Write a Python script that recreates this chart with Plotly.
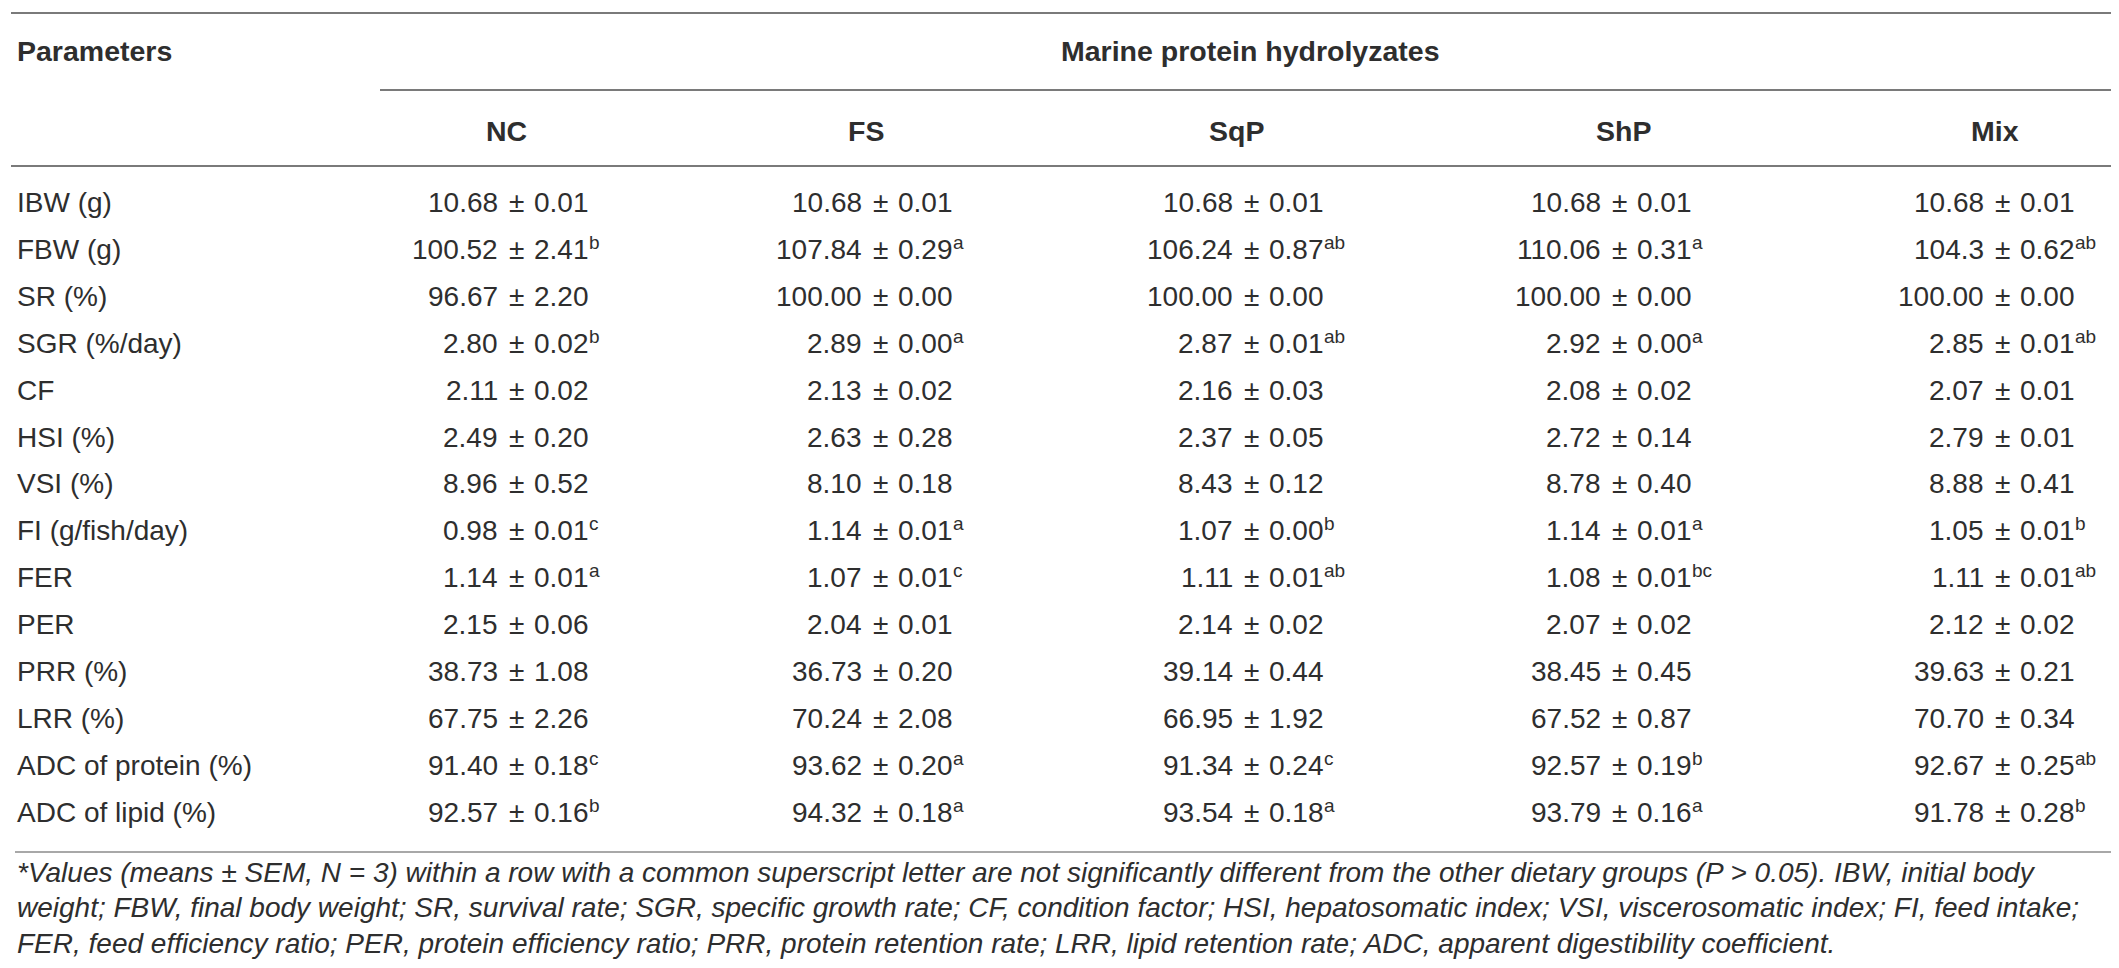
import plotly.graph_objects as go

# ---- table data ----
params = ["IBW (g)", "FBW (g)", "SR (%)", "SGR (%/day)", "CF", "HSI (%)", "VSI (%)",
          "FI (g/fish/day)", "FER", "PER", "PRR (%)", "LRR (%)",
          "ADC of protein (%)", "ADC of lipid (%)"]
groups = ["NC", "FS", "SqP", "ShP", "Mix"]

nc_mean = ["10.68", "100.52", "96.67", "2.80", "2.11", "2.49", "8.96", "0.98", "1.14", "2.15", "38.73", "67.75", "91.40", "92.57"]
nc_sem = ["0.01", "2.41", "2.20", "0.02", "0.02", "0.20", "0.52", "0.01", "0.01", "0.06", "1.08", "2.26", "0.18", "0.16"]
nc_sig = ["", "b", "", "b", "", "", "", "c", "a", "", "", "", "c", "b"]

fs_mean = ["10.68", "107.84", "100.00", "2.89", "2.13", "2.63", "8.10", "1.14", "1.07", "2.04", "36.73", "70.24", "93.62", "94.32"]
fs_sem = ["0.01", "0.29", "0.00", "0.00", "0.02", "0.28", "0.18", "0.01", "0.01", "0.01", "0.20", "2.08", "0.20", "0.18"]
fs_sig = ["", "a", "", "a", "", "", "", "a", "c", "", "", "", "a", "a"]

sqp_mean = ["10.68", "106.24", "100.00", "2.87", "2.16", "2.37", "8.43", "1.07", "1.11", "2.14", "39.14", "66.95", "91.34", "93.54"]
sqp_sem = ["0.01", "0.87", "0.00", "0.01", "0.03", "0.05", "0.12", "0.00", "0.01", "0.02", "0.44", "1.92", "0.24", "0.18"]
sqp_sig = ["", "ab", "", "ab", "", "", "", "b", "ab", "", "", "", "c", "a"]

shp_mean = ["10.68", "110.06", "100.00", "2.92", "2.08", "2.72", "8.78", "1.14", "1.08", "2.07", "38.45", "67.52", "92.57", "93.79"]
shp_sem = ["0.01", "0.31", "0.00", "0.00", "0.02", "0.14", "0.40", "0.01", "0.01", "0.02", "0.45", "0.87", "0.19", "0.16"]
shp_sig = ["", "a", "", "a", "", "", "", "a", "bc", "", "", "", "b", "a"]

mix_mean = ["10.68", "104.3", "100.00", "2.85", "2.07", "2.79", "8.88", "1.05", "1.11", "2.12", "39.63", "70.70", "92.67", "91.78"]
mix_sem = ["0.01", "0.62", "0.00", "0.01", "0.01", "0.01", "0.41", "0.01", "0.01", "0.02", "0.21", "0.34", "0.25", "0.28"]
mix_sig = ["", "ab", "", "ab", "", "", "", "b", "ab", "", "", "", "ab", "b"]

footnote = [
    "*Values (means ± SEM, N = 3) within a row with a common superscript letter are not significantly different from the other dietary groups (P > 0.05). IBW, initial body",
    "weight; FBW, final body weight; SR, survival rate; SGR, specific growth rate; CF, condition factor; HSI, hepatosomatic index; VSI, viscerosomatic index; FI, feed intake;",
    "FER, feed efficiency ratio; PER, protein efficiency ratio; PRR, protein retention rate; LRR, lipid retention rate; ADC, apparent digestibility coefficient.",
]

columns = [(nc_mean, nc_sem, nc_sig), (fs_mean, fs_sem, fs_sig), (sqp_mean, sqp_sem, sqp_sig),
           (shp_mean, shp_sem, shp_sig), (mix_mean, mix_sem, mix_sig)]

# ---- layout (pixel grid) ----
W, H = 2119, 968
pm_x = [508, 872, 1243, 1611, 1994]     # x of the ± sign in each column
head_x = [498, 858, 1228, 1615, 1987]
row0, row_step = 196, 46.9
base_off = 16   # bottom of text box below row centre
sup_dx = 71     # superscript starts right after the "d.dd" SEM text
FONT = "Liberation Sans, Arial, sans-serif"
TXT = "#2e2e2e"
LINE = "#7a7a7a"

fig = go.Figure()
fig.add_trace(go.Scatter(x=[0, W], y=[0, H], mode="markers", marker=dict(opacity=0),
                         hoverinfo="skip", showlegend=False))

ann = []

def txt(x, y, s, xa="left", ya="middle", size=28, bold=False, italic=False):
    ann.append(dict(x=x, y=y, xref="x", yref="y", text=s, showarrow=False,
                    xanchor=xa, yanchor=ya,
                    font=dict(family=FONT, size=size, color=TXT,
                              weight="bold" if bold else "normal",
                              style="italic" if italic else "normal")))

# header
txt(7, 43, "Parameters", bold=True, size=28.5)
txt(1242, 43, "Marine protein hydrolyzates", xa="center", bold=True, size=28.5)
for g, hx in zip(groups, head_x):
    txt(hx, 123, g, xa="center", bold=True, size=28.5)

# body
for i, p in enumerate(params):
    yc = row0 + i * row_step
    yb = yc + base_off
    txt(7, yb, p, ya="bottom")
    for (mean, sem, sig), px in zip(columns, pm_x):
        txt(px - 16, yb, mean[i], xa="right", ya="bottom")
        txt(px, yb, "±", xa="center", ya="bottom")
        txt(px + 16, yb, sem[i], xa="left", ya="bottom")
        if sig[i]:
            txt(px + sup_dx, yb - 12, sig[i], xa="left", ya="bottom", size=19)

# footnote
for k, line in enumerate(footnote):
    txt(7, 864 + k * 35.5, line, italic=True, size=28)

fig.update_layout(
    width=W, height=H,
    margin=dict(l=0, r=0, t=0, b=0),
    plot_bgcolor="white", paper_bgcolor="white",
    xaxis=dict(range=[0, W], visible=False, fixedrange=True),
    yaxis=dict(range=[H, 0], visible=False, fixedrange=True),
    annotations=ann,
    shapes=[
        dict(type="line", xref="x", yref="y", x0=3, x1=2112, y0=5, y1=5, line=dict(color=LINE, width=2)),
        dict(type="line", xref="x", yref="y", x0=372, x1=2112, y0=82, y1=82, line=dict(color=LINE, width=2)),
        dict(type="line", xref="x", yref="y", x0=3, x1=2112, y0=158, y1=158, line=dict(color=LINE, width=2)),
        dict(type="line", xref="x", yref="y", x0=7, x1=2112, y0=844, y1=844, line=dict(color="#a8a8a8", width=2)),
    ],
)

fig.write_html("out.html")
